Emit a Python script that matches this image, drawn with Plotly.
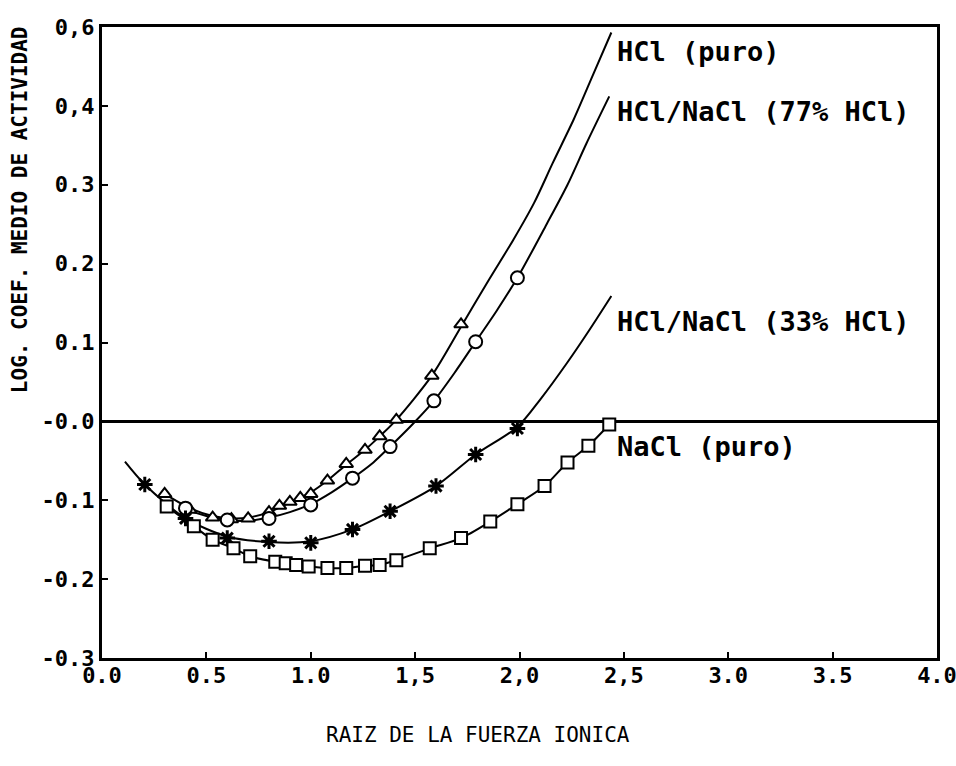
import plotly.graph_objects as go

# ---------------- data ----------------
# HCl (puro) - triangles
hcl_x = [0.30, 0.42, 0.53, 0.62, 0.70, 0.80, 0.85, 0.90, 0.95, 1.00, 1.08, 1.17, 1.26, 1.33, 1.41, 1.58, 1.72]
hcl_y = [-0.092, -0.112, -0.122, -0.124, -0.123, -0.115, -0.107, -0.102, -0.097, -0.092, -0.075, -0.054, -0.036, -0.019, 0.002, 0.058, 0.123]
hcl_line_x = [0.30, 0.42, 0.53, 0.62, 0.70, 0.80, 0.90, 1.00, 1.08, 1.17, 1.26, 1.33, 1.41, 1.58, 1.72, 1.85, 1.97, 2.07, 2.16, 2.26, 2.35, 2.44]
hcl_line_y = [-0.092, -0.110, -0.120, -0.123, -0.122, -0.115, -0.103, -0.090, -0.075, -0.055, -0.036, -0.019, 0.002, 0.058, 0.120, 0.178, 0.230, 0.277, 0.328, 0.383, 0.438, 0.493]

# HCl/NaCl (77% HCl) - circles
m77_x = [0.40, 0.60, 0.80, 1.00, 1.20, 1.38, 1.59, 1.79, 1.99]
m77_y = [-0.110, -0.125, -0.123, -0.106, -0.072, -0.032, 0.026, 0.101, 0.182]
m77_line_x = [0.38, 0.50, 0.60, 0.70, 0.80, 0.90, 1.00, 1.10, 1.20, 1.30, 1.38, 1.49, 1.59, 1.69, 1.79, 1.89, 1.99, 2.13, 2.23, 2.32, 2.43]
m77_line_y = [-0.110, -0.120, -0.125, -0.126, -0.122, -0.115, -0.105, -0.090, -0.072, -0.052, -0.032, -0.003, 0.026, 0.062, 0.101, 0.140, 0.182, 0.250, 0.300, 0.352, 0.412]

# HCl/NaCl (33% HCl) - stars
m33_x = [0.205, 0.40, 0.60, 0.80, 1.00, 1.20, 1.38, 1.60, 1.79, 1.99]
m33_y = [-0.080, -0.123, -0.148, -0.152, -0.154, -0.137, -0.114, -0.082, -0.042, -0.009]
m33_line_x = [0.11, 0.205, 0.40, 0.60, 0.80, 1.00, 1.20, 1.38, 1.60, 1.79, 1.99, 2.10, 2.23, 2.33, 2.44]
m33_line_y = [-0.051, -0.080, -0.123, -0.146, -0.153, -0.152, -0.137, -0.114, -0.082, -0.042, -0.007, 0.028, 0.075, 0.114, 0.159]

# NaCl (puro) - squares
nacl_x = [0.31, 0.44, 0.53, 0.63, 0.71, 0.83, 0.88, 0.93, 0.99, 1.08, 1.17, 1.26, 1.33, 1.41, 1.57, 1.72, 1.86, 1.99, 2.12, 2.23, 2.33, 2.43]
nacl_y = [-0.108, -0.133, -0.150, -0.161, -0.171, -0.178, -0.180, -0.182, -0.184, -0.186, -0.186, -0.183, -0.182, -0.176, -0.161, -0.148, -0.127, -0.105, -0.082, -0.052, -0.031, -0.004]

x_tickvals = [0.0, 0.5, 1.0, 1.5, 2.0, 2.5, 3.0, 3.5, 4.0]
x_ticktext = ["0.0", "0.5", "1.0", "1,5", "2,0", "2,5", "3.0", "3.5", "4.0"]
y_tickvals = [-0.3, -0.2, -0.1, 0.0, 0.1, 0.2, 0.3, 0.4, 0.5]
y_ticktext = ["-0.3", "-0.2", "-0.1", "-0.0", "0.1", "0.2", "0.3", "0,4", "0,6"]

labels = ["HCl (puro)", "HCl/NaCl (77% HCl)", "HCl/NaCl (33% HCl)", "NaCl (puro)"]
label_y = [0.4695, 0.393, 0.127, -0.032]
label_x = 2.458

# ---------------- figure ----------------
FONT = "DejaVu Sans Mono"
fig = go.Figure()

line_style = dict(color="black", width=2, shape="spline", smoothing=0.8)
for lx, ly in [(hcl_line_x, hcl_line_y), (m77_line_x, m77_line_y),
               (m33_line_x, m33_line_y), (nacl_x, nacl_y)]:
    fig.add_trace(go.Scatter(x=lx, y=ly, mode="lines", line=line_style,
                             hoverinfo="skip", showlegend=False))

def mk(sym, size=12, lw=2):
    return dict(symbol=sym, size=size, color="white",
                line=dict(color="black", width=lw))

fig.add_trace(go.Scatter(x=hcl_x, y=hcl_y, mode="markers", name="HCl (puro)",
                         marker=mk("triangle-up", 12, 2), showlegend=False))
fig.add_trace(go.Scatter(x=m77_x, y=m77_y, mode="markers", name="HCl/NaCl (77% HCl)",
                         marker=mk("circle", 13, 2), showlegend=False))
fig.add_trace(go.Scatter(x=m33_x, y=m33_y, mode="markers", name="HCl/NaCl (33% HCl)",
                         marker=dict(symbol="asterisk-open", size=13, color="black",
                                     line=dict(color="black", width=3)),
                         showlegend=False))
fig.add_trace(go.Scatter(x=nacl_x, y=nacl_y, mode="markers", name="NaCl (puro)",
                         marker=mk("square", 12, 2), showlegend=False))

# zero line
fig.add_hline(y=0, line=dict(color="black", width=3), layer="below")

for t, yy in zip(labels, label_y):
    fig.add_annotation(x=label_x, y=yy, xref="x", yref="y", text=t,
                       showarrow=False, xanchor="left", yanchor="middle",
                       font=dict(family=FONT, size=27, color="black", weight="bold"))

fig.add_annotation(x=0.45, y=-0.122, xref="paper", yref="paper",
                   text="RAIZ DE LA FUERZA IONICA", showarrow=False,
                   xanchor="center", yanchor="middle",
                   font=dict(family=FONT, size=21, color="black"))
fig.add_annotation(x=-0.098, y=0.71, xref="paper", yref="paper",
                   text="LOG. COEF. MEDIO DE ACTIVIDAD", showarrow=False,
                   textangle=-90, xanchor="center", yanchor="middle",
                   font=dict(family=FONT, size=21, color="black", weight="bold"))

axis_common = dict(showline=True, linecolor="black", linewidth=3, mirror=True,
                   ticks="inside", ticklen=6, tickwidth=2, tickcolor="black",
                   showgrid=False, zeroline=False, ticklabeloverflow="allow",
                   automargin=False,
                   tickfont=dict(family=FONT, size=22, color="black", weight="bold"))
fig.update_xaxes(range=[0, 4], tickvals=x_tickvals, ticktext=x_ticktext,
                 ticklabelstandoff=-4, **axis_common)
fig.update_yaxes(range=[-0.3, 0.5], tickvals=y_tickvals, ticktext=y_ticktext, **axis_common)

fig.update_layout(width=956, height=766, plot_bgcolor="white", paper_bgcolor="white",
                  margin=dict(l=102, r=19, t=27, b=108))

fig.write_html("out.html")
